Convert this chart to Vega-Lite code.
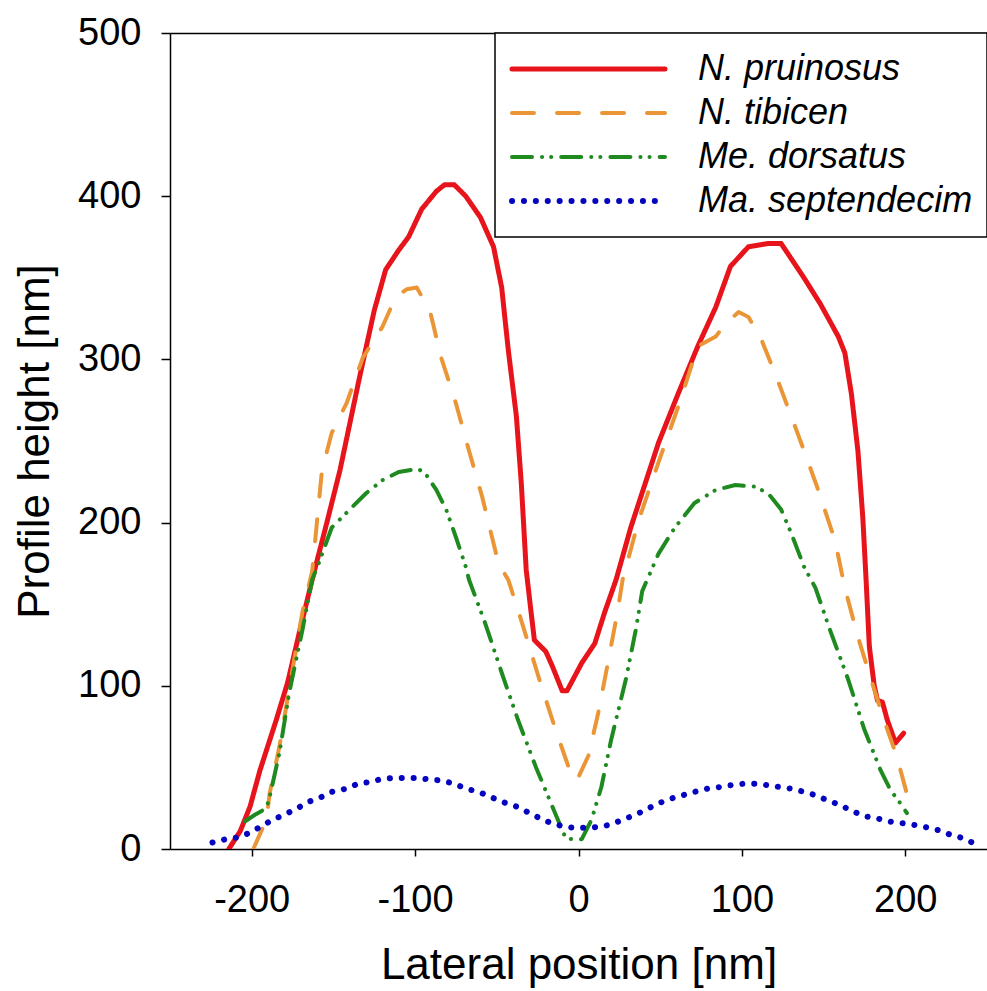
{
  "$schema": "https://vega.github.io/schema/vega-lite/v6.json",
  "width": 817,
  "height": 816,
  "autosize": {"type": "none"},
  "padding": {"left": 170, "top": 33, "right": 0, "bottom": 142},
  "background": "white",
  "config": {
    "view": {"stroke": null},
    "font": "Liberation Sans",
    "line": {"strokeCap": "round", "strokeJoin": "round"},
    "axis": {"grid": false, "domainColor": "black", "tickColor": "black", "labelColor": "black", "titleColor": "black", "labelFont": "Liberation Sans", "titleFont": "Liberation Sans", "titleFontWeight": "normal", "domainWidth": 1.5, "tickWidth": 1.5}
  },
  "datasets": {
    "profiles": [
      {"species": "N. pruinosus", "x": -214, "y": 0},
      {"species": "N. pruinosus", "x": -207, "y": 11},
      {"species": "N. pruinosus", "x": -201, "y": 26},
      {"species": "N. pruinosus", "x": -195, "y": 48},
      {"species": "N. pruinosus", "x": -185, "y": 79},
      {"species": "N. pruinosus", "x": -178, "y": 102},
      {"species": "N. pruinosus", "x": -171, "y": 132},
      {"species": "N. pruinosus", "x": -163, "y": 165},
      {"species": "N. pruinosus", "x": -154, "y": 200},
      {"species": "N. pruinosus", "x": -146, "y": 232},
      {"species": "N. pruinosus", "x": -134, "y": 289},
      {"species": "N. pruinosus", "x": -125, "y": 330},
      {"species": "N. pruinosus", "x": -118, "y": 355},
      {"species": "N. pruinosus", "x": -110, "y": 367},
      {"species": "N. pruinosus", "x": -104, "y": 375},
      {"species": "N. pruinosus", "x": -96, "y": 392},
      {"species": "N. pruinosus", "x": -87, "y": 403},
      {"species": "N. pruinosus", "x": -82, "y": 407},
      {"species": "N. pruinosus", "x": -76, "y": 407},
      {"species": "N. pruinosus", "x": -69, "y": 400},
      {"species": "N. pruinosus", "x": -60, "y": 387},
      {"species": "N. pruinosus", "x": -52, "y": 369},
      {"species": "N. pruinosus", "x": -47, "y": 344},
      {"species": "N. pruinosus", "x": -43, "y": 306},
      {"species": "N. pruinosus", "x": -38, "y": 265},
      {"species": "N. pruinosus", "x": -35, "y": 224},
      {"species": "N. pruinosus", "x": -32, "y": 171},
      {"species": "N. pruinosus", "x": -29, "y": 145},
      {"species": "N. pruinosus", "x": -27, "y": 128},
      {"species": "N. pruinosus", "x": -20, "y": 121},
      {"species": "N. pruinosus", "x": -16, "y": 112},
      {"species": "N. pruinosus", "x": -10, "y": 97},
      {"species": "N. pruinosus", "x": -7, "y": 97},
      {"species": "N. pruinosus", "x": 2, "y": 114},
      {"species": "N. pruinosus", "x": 10, "y": 126},
      {"species": "N. pruinosus", "x": 16, "y": 145},
      {"species": "N. pruinosus", "x": 23, "y": 165},
      {"species": "N. pruinosus", "x": 32, "y": 197},
      {"species": "N. pruinosus", "x": 49, "y": 249},
      {"species": "N. pruinosus", "x": 61, "y": 279},
      {"species": "N. pruinosus", "x": 73, "y": 308},
      {"species": "N. pruinosus", "x": 84, "y": 332},
      {"species": "N. pruinosus", "x": 93, "y": 357},
      {"species": "N. pruinosus", "x": 104, "y": 369},
      {"species": "N. pruinosus", "x": 116, "y": 371},
      {"species": "N. pruinosus", "x": 124, "y": 371},
      {"species": "N. pruinosus", "x": 132, "y": 359},
      {"species": "N. pruinosus", "x": 138, "y": 350},
      {"species": "N. pruinosus", "x": 148, "y": 334},
      {"species": "N. pruinosus", "x": 159, "y": 314},
      {"species": "N. pruinosus", "x": 163, "y": 304},
      {"species": "N. pruinosus", "x": 167, "y": 279},
      {"species": "N. pruinosus", "x": 171, "y": 244},
      {"species": "N. pruinosus", "x": 174, "y": 203},
      {"species": "N. pruinosus", "x": 176, "y": 165},
      {"species": "N. pruinosus", "x": 178, "y": 124},
      {"species": "N. pruinosus", "x": 181, "y": 100},
      {"species": "N. pruinosus", "x": 183, "y": 91},
      {"species": "N. pruinosus", "x": 186, "y": 90},
      {"species": "N. pruinosus", "x": 189, "y": 79},
      {"species": "N. pruinosus", "x": 194, "y": 65},
      {"species": "N. pruinosus", "x": 199, "y": 71},

      {"species": "N. tibicen", "x": -199, "y": 0},
      {"species": "N. tibicen", "x": -191, "y": 18},
      {"species": "N. tibicen", "x": -189, "y": 34},
      {"species": "N. tibicen", "x": -183, "y": 63},
      {"species": "N. tibicen", "x": -175, "y": 110},
      {"species": "N. tibicen", "x": -169, "y": 145},
      {"species": "N. tibicen", "x": -163, "y": 170},
      {"species": "N. tibicen", "x": -157, "y": 232},
      {"species": "N. tibicen", "x": -151, "y": 255},
      {"species": "N. tibicen", "x": -142, "y": 273},
      {"species": "N. tibicen", "x": -132, "y": 301},
      {"species": "N. tibicen", "x": -120, "y": 320},
      {"species": "N. tibicen", "x": -112, "y": 338},
      {"species": "N. tibicen", "x": -105, "y": 343},
      {"species": "N. tibicen", "x": -99, "y": 344},
      {"species": "N. tibicen", "x": -91, "y": 330},
      {"species": "N. tibicen", "x": -84, "y": 301},
      {"species": "N. tibicen", "x": -75, "y": 273},
      {"species": "N. tibicen", "x": -67, "y": 244},
      {"species": "N. tibicen", "x": -59, "y": 216},
      {"species": "N. tibicen", "x": -49, "y": 175},
      {"species": "N. tibicen", "x": -43, "y": 165},
      {"species": "N. tibicen", "x": -35, "y": 140},
      {"species": "N. tibicen", "x": -24, "y": 104},
      {"species": "N. tibicen", "x": -14, "y": 73},
      {"species": "N. tibicen", "x": -6, "y": 50},
      {"species": "N. tibicen", "x": -1, "y": 42},
      {"species": "N. tibicen", "x": 6, "y": 57},
      {"species": "N. tibicen", "x": 12, "y": 83},
      {"species": "N. tibicen", "x": 18, "y": 114},
      {"species": "N. tibicen", "x": 24, "y": 146},
      {"species": "N. tibicen", "x": 27, "y": 165},
      {"species": "N. tibicen", "x": 37, "y": 202},
      {"species": "N. tibicen", "x": 49, "y": 237},
      {"species": "N. tibicen", "x": 61, "y": 271},
      {"species": "N. tibicen", "x": 73, "y": 308},
      {"species": "N. tibicen", "x": 84, "y": 314},
      {"species": "N. tibicen", "x": 90, "y": 322},
      {"species": "N. tibicen", "x": 98, "y": 329},
      {"species": "N. tibicen", "x": 104, "y": 326},
      {"species": "N. tibicen", "x": 112, "y": 312},
      {"species": "N. tibicen", "x": 122, "y": 287},
      {"species": "N. tibicen", "x": 134, "y": 255},
      {"species": "N. tibicen", "x": 146, "y": 222},
      {"species": "N. tibicen", "x": 157, "y": 189},
      {"species": "N. tibicen", "x": 163, "y": 160},
      {"species": "N. tibicen", "x": 171, "y": 130},
      {"species": "N. tibicen", "x": 179, "y": 104},
      {"species": "N. tibicen", "x": 187, "y": 79},
      {"species": "N. tibicen", "x": 195, "y": 56},
      {"species": "N. tibicen", "x": 202, "y": 30},

      {"species": "Me. dorsatus", "x": -204, "y": 17},
      {"species": "Me. dorsatus", "x": -198, "y": 21},
      {"species": "Me. dorsatus", "x": -191, "y": 25},
      {"species": "Me. dorsatus", "x": -189, "y": 32},
      {"species": "Me. dorsatus", "x": -183, "y": 59},
      {"species": "Me. dorsatus", "x": -177, "y": 96},
      {"species": "Me. dorsatus", "x": -169, "y": 134},
      {"species": "Me. dorsatus", "x": -163, "y": 165},
      {"species": "Me. dorsatus", "x": -159, "y": 175},
      {"species": "Me. dorsatus", "x": -151, "y": 197},
      {"species": "Me. dorsatus", "x": -140, "y": 208},
      {"species": "Me. dorsatus", "x": -130, "y": 218},
      {"species": "Me. dorsatus", "x": -120, "y": 226},
      {"species": "Me. dorsatus", "x": -110, "y": 231},
      {"species": "Me. dorsatus", "x": -98, "y": 233},
      {"species": "Me. dorsatus", "x": -93, "y": 229},
      {"species": "Me. dorsatus", "x": -87, "y": 220},
      {"species": "Me. dorsatus", "x": -81, "y": 208},
      {"species": "Me. dorsatus", "x": -75, "y": 191},
      {"species": "Me. dorsatus", "x": -69, "y": 173},
      {"species": "Me. dorsatus", "x": -67, "y": 165},
      {"species": "Me. dorsatus", "x": -57, "y": 138},
      {"species": "Me. dorsatus", "x": -47, "y": 108},
      {"species": "Me. dorsatus", "x": -37, "y": 79},
      {"species": "Me. dorsatus", "x": -26, "y": 50},
      {"species": "Me. dorsatus", "x": -16, "y": 26},
      {"species": "Me. dorsatus", "x": -8, "y": 7},
      {"species": "Me. dorsatus", "x": -4, "y": 6},
      {"species": "Me. dorsatus", "x": 2, "y": 6},
      {"species": "Me. dorsatus", "x": 8, "y": 18},
      {"species": "Me. dorsatus", "x": 14, "y": 38},
      {"species": "Me. dorsatus", "x": 20, "y": 67},
      {"species": "Me. dorsatus", "x": 29, "y": 104},
      {"species": "Me. dorsatus", "x": 35, "y": 134},
      {"species": "Me. dorsatus", "x": 39, "y": 158},
      {"species": "Me. dorsatus", "x": 49, "y": 181},
      {"species": "Me. dorsatus", "x": 59, "y": 197},
      {"species": "Me. dorsatus", "x": 71, "y": 212},
      {"species": "Me. dorsatus", "x": 84, "y": 220},
      {"species": "Me. dorsatus", "x": 96, "y": 223},
      {"species": "Me. dorsatus", "x": 108, "y": 222},
      {"species": "Me. dorsatus", "x": 116, "y": 218},
      {"species": "Me. dorsatus", "x": 124, "y": 208},
      {"species": "Me. dorsatus", "x": 130, "y": 194},
      {"species": "Me. dorsatus", "x": 138, "y": 173},
      {"species": "Me. dorsatus", "x": 145, "y": 160},
      {"species": "Me. dorsatus", "x": 154, "y": 134},
      {"species": "Me. dorsatus", "x": 165, "y": 104},
      {"species": "Me. dorsatus", "x": 175, "y": 73},
      {"species": "Me. dorsatus", "x": 185, "y": 48},
      {"species": "Me. dorsatus", "x": 191, "y": 36},
      {"species": "Me. dorsatus", "x": 197, "y": 28},
      {"species": "Me. dorsatus", "x": 201, "y": 22},

      {"species": "Ma. septendecim", "x": -224, "y": 4},
      {"species": "Ma. septendecim", "x": -216, "y": 6},
      {"species": "Ma. septendecim", "x": -209, "y": 7},
      {"species": "Ma. septendecim", "x": -201, "y": 10},
      {"species": "Ma. septendecim", "x": -194, "y": 14},
      {"species": "Ma. septendecim", "x": -187, "y": 18},
      {"species": "Ma. septendecim", "x": -180, "y": 21},
      {"species": "Ma. septendecim", "x": -172, "y": 25},
      {"species": "Ma. septendecim", "x": -165, "y": 29},
      {"species": "Ma. septendecim", "x": -157, "y": 32},
      {"species": "Ma. septendecim", "x": -151, "y": 35},
      {"species": "Ma. septendecim", "x": -142, "y": 37},
      {"species": "Ma. septendecim", "x": -135, "y": 40},
      {"species": "Ma. septendecim", "x": -128, "y": 41},
      {"species": "Ma. septendecim", "x": -120, "y": 43},
      {"species": "Ma. septendecim", "x": -113, "y": 43.5},
      {"species": "Ma. septendecim", "x": -105, "y": 43.5},
      {"species": "Ma. septendecim", "x": -99, "y": 43.5},
      {"species": "Ma. septendecim", "x": -90, "y": 42.5},
      {"species": "Ma. septendecim", "x": -84, "y": 42},
      {"species": "Ma. septendecim", "x": -76, "y": 40},
      {"species": "Ma. septendecim", "x": -69, "y": 37},
      {"species": "Ma. septendecim", "x": -61, "y": 35},
      {"species": "Ma. septendecim", "x": -54, "y": 32},
      {"species": "Ma. septendecim", "x": -47, "y": 29},
      {"species": "Ma. septendecim", "x": -38, "y": 26},
      {"species": "Ma. septendecim", "x": -32, "y": 23},
      {"species": "Ma. septendecim", "x": -24, "y": 19},
      {"species": "Ma. septendecim", "x": -17, "y": 16},
      {"species": "Ma. septendecim", "x": -10, "y": 14},
      {"species": "Ma. septendecim", "x": -3, "y": 13},
      {"species": "Ma. septendecim", "x": 5, "y": 13},
      {"species": "Ma. septendecim", "x": 12, "y": 13.5},
      {"species": "Ma. septendecim", "x": 20, "y": 15},
      {"species": "Ma. septendecim", "x": 27, "y": 18},
      {"species": "Ma. septendecim", "x": 35, "y": 21},
      {"species": "Ma. septendecim", "x": 41, "y": 24},
      {"species": "Ma. septendecim", "x": 49, "y": 28},
      {"species": "Ma. septendecim", "x": 57, "y": 31},
      {"species": "Ma. septendecim", "x": 64, "y": 33},
      {"species": "Ma. septendecim", "x": 71, "y": 35},
      {"species": "Ma. septendecim", "x": 79, "y": 37},
      {"species": "Ma. septendecim", "x": 87, "y": 38},
      {"species": "Ma. septendecim", "x": 93, "y": 39},
      {"species": "Ma. septendecim", "x": 101, "y": 40},
      {"species": "Ma. septendecim", "x": 109, "y": 40},
      {"species": "Ma. septendecim", "x": 116, "y": 39},
      {"species": "Ma. septendecim", "x": 123, "y": 38},
      {"species": "Ma. septendecim", "x": 130, "y": 37},
      {"species": "Ma. septendecim", "x": 138, "y": 35},
      {"species": "Ma. septendecim", "x": 145, "y": 33},
      {"species": "Ma. septendecim", "x": 152, "y": 30},
      {"species": "Ma. septendecim", "x": 160, "y": 27},
      {"species": "Ma. septendecim", "x": 166, "y": 24},
      {"species": "Ma. septendecim", "x": 175, "y": 20},
      {"species": "Ma. septendecim", "x": 182, "y": 19},
      {"species": "Ma. septendecim", "x": 189, "y": 17},
      {"species": "Ma. septendecim", "x": 197, "y": 16},
      {"species": "Ma. septendecim", "x": 204, "y": 15},
      {"species": "Ma. septendecim", "x": 212, "y": 13.5},
      {"species": "Ma. septendecim", "x": 220, "y": 11.6},
      {"species": "Ma. septendecim", "x": 227, "y": 9},
      {"species": "Ma. septendecim", "x": 234, "y": 7},
      {"species": "Ma. septendecim", "x": 241, "y": 4},
      {"species": "Ma. septendecim", "x": 247, "y": 2.5}
    ]
  },
  "data": {"name": "profiles"},
  "layer": [
    {
      "mark": {"type": "line", "strokeCap": "round", "strokeJoin": "round", "clip": true},
      "encoding": {
        "x": {
          "field": "x", "type": "quantitative",
          "scale": {"domain": [-250, 250], "nice": false, "zero": false},
          "axis": {"orient": "bottom", "values": [-200, -100, 0, 100, 200], "labelExpr": "'' + datum.value", "tickSize": 7, "labelFontSize": 38, "labelPadding": 25, "title": "Lateral position [nm]", "titleFontSize": 44, "titlePadding": 24}
        },
        "y": {
          "field": "y", "type": "quantitative",
          "scale": {"domain": [0, 500], "nice": false},
          "axis": {"values": [0, 100, 200, 300, 400, 500], "tickSize": 9, "labelFontSize": 38, "labelPadding": 20, "title": "Profile height [nm]", "titleFontSize": 44, "titlePadding": 20}
        },
        "color": {
          "field": "species", "type": "nominal",
          "scale": {"domain": ["N. pruinosus", "N. tibicen", "Me. dorsatus", "Ma. septendecim"], "range": ["#e8141c", "#eb9636", "#1f8a1f", "#0505c0"]},
          "legend": {"orient": "none", "legendX": 325, "legendY": 0, "title": null, "symbolType": "stroke", "symbolSize": 23409, "clipHeight": 44, "labelLimit": 500, "labelFont": "Liberation Sans", "labelFontStyle": "italic", "labelFontSize": 36, "labelColor": "black", "padding": 14, "strokeColor": "black", "fillColor": "white", "rowPadding": 0, "labelOffset": 30,
            "encoding": {"symbols": {"strokeCap": {"value": "round"}}, "legend": {"strokeWidth": {"value": 1.5}}}}
        },
        "strokeDash": {
          "field": "species", "type": "nominal",
          "scale": {"domain": ["N. pruinosus", "N. tibicen", "Me. dorsatus", "Ma. septendecim"], "range": [[1, 0], [22, 23], [20, 10, 0.1, 9, 0.1, 10], [0.1, 11.8]]},
          "legend": {"orient": "none", "legendX": 325, "legendY": 0, "title": null, "symbolType": "stroke", "symbolSize": 23409, "clipHeight": 44, "labelLimit": 500, "labelFont": "Liberation Sans", "labelFontStyle": "italic", "labelFontSize": 36, "labelColor": "black", "padding": 14, "strokeColor": "black", "fillColor": "white", "rowPadding": 0, "labelOffset": 30,
            "encoding": {"symbols": {"strokeCap": {"value": "round"}}, "legend": {"strokeWidth": {"value": 1.5}}}}
        },
        "strokeWidth": {
          "field": "species", "type": "nominal",
          "scale": {"type": "ordinal", "domain": ["N. pruinosus", "N. tibicen", "Me. dorsatus", "Ma. septendecim"], "range": [5, 4, 4, 6]},
          "legend": {"orient": "none", "legendX": 325, "legendY": 0, "title": null, "symbolType": "stroke", "symbolSize": 23409, "clipHeight": 44, "labelLimit": 500, "labelFont": "Liberation Sans", "labelFontStyle": "italic", "labelFontSize": 36, "labelColor": "black", "padding": 14, "strokeColor": "black", "fillColor": "white", "rowPadding": 0, "labelOffset": 30,
            "encoding": {"symbols": {"strokeCap": {"value": "round"}}, "legend": {"strokeWidth": {"value": 1.5}}}}
        }
      }
    },
    {
      "mark": {"type": "line", "opacity": 0},
      "encoding": {
        "x": {"field": "x", "type": "quantitative", "axis": {"orient": "top", "labels": false, "ticks": false, "domain": true, "title": null}},
        "y": {"field": "y", "type": "quantitative"},
        "detail": {"field": "species"}
      }
    }
  ],
  "resolve": {"axis": {"x": "independent"}}
}
